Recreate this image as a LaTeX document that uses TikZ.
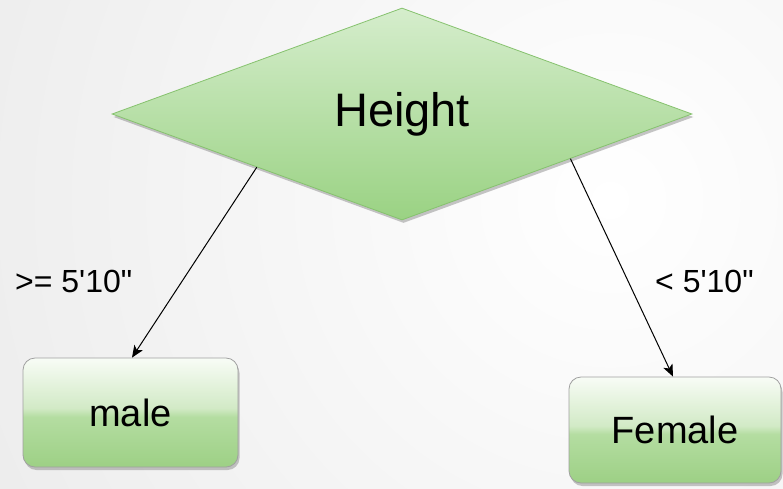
\documentclass[tikz,border=0pt]{standalone}
\usepackage{fontspec}
\setmainfont{Liberation Sans}
\usetikzlibrary{shapes.geometric,arrows.meta,shadows,calc}
\definecolor{bgc}{HTML}{DCDCDC}
\definecolor{gA}{HTML}{9DD085}
\definecolor{gB}{HTML}{B4DDA1}
\definecolor{gC}{HTML}{D2EAC6}
\definecolor{gE}{HTML}{F8FCF6}
\definecolor{dTop}{HTML}{D5EDCC}
\definecolor{dBot}{HTML}{9AD283}
\definecolor{dLine}{HTML}{86C26E}
\definecolor{bLine}{HTML}{A0A0A0}
\pgfdeclareverticalshading{glossy}{100bp}{color(0bp)=(gA); color(25bp)=(gA); color(48bp)=(gB); color(52bp)=(gC); color(75bp)=(gE); color(100bp)=(gE)}
\tikzset{
  decision/.style={diamond, draw=dLine, line width=0.8pt, top color=dTop, bottom color=dBot,
    minimum width=580pt, minimum height=212pt, inner sep=0pt, font=\fontsize{47}{50}\selectfont,
    drop shadow={shadow xshift=1.5pt, shadow yshift=-3pt, fill=black!45, opacity=0.5}},
  leaf/.style={rectangle, rounded corners=12pt, draw=bLine, line width=0.8pt, shading=glossy,
    inner sep=0pt, font=\fontsize{38}{42}\selectfont,
    drop shadow={shadow xshift=1.5pt, shadow yshift=-3pt, fill=black!45, opacity=0.5}},
  lbl/.style={inner sep=0pt, font=\fontsize{32}{35}\selectfont},
  arr/.style={line width=1pt, -{Stealth[length=12pt, width=10pt, inset=3pt]}}
}
\begin{document}
\begin{tikzpicture}[x=1pt, y=-1pt]
\useasboundingbox (0,0) rectangle (783,488);
\begin{scope}
  \clip (0,0) rectangle (783,488);
  \shade[inner color=white, outer color=bgc] (610,200) circle (1300);
\end{scope}
\node[decision] (d) at (402,114) {Height};
\node[leaf, minimum width=215pt, minimum height=109pt] (m) at (130.5,412.5) {male};
\node[leaf, minimum width=212pt, minimum height=106pt] (f) at (675,430) {Female};
\node[lbl, anchor=base west] (l1) at (15,292) {>= 5\textquotesingle 10\textquotedbl};
\node[lbl, anchor=base west] (l2) at (655,292) {< 5\textquotesingle 10\textquotedbl};
\draw[arr] (d.south west) -- ($(m.north)+(1.5,0)$);
\draw[arr] ($(d.south)!0.58!(d.east)$) -- ($(f.north)+(-2,0)$);
\end{tikzpicture}
\end{document}
